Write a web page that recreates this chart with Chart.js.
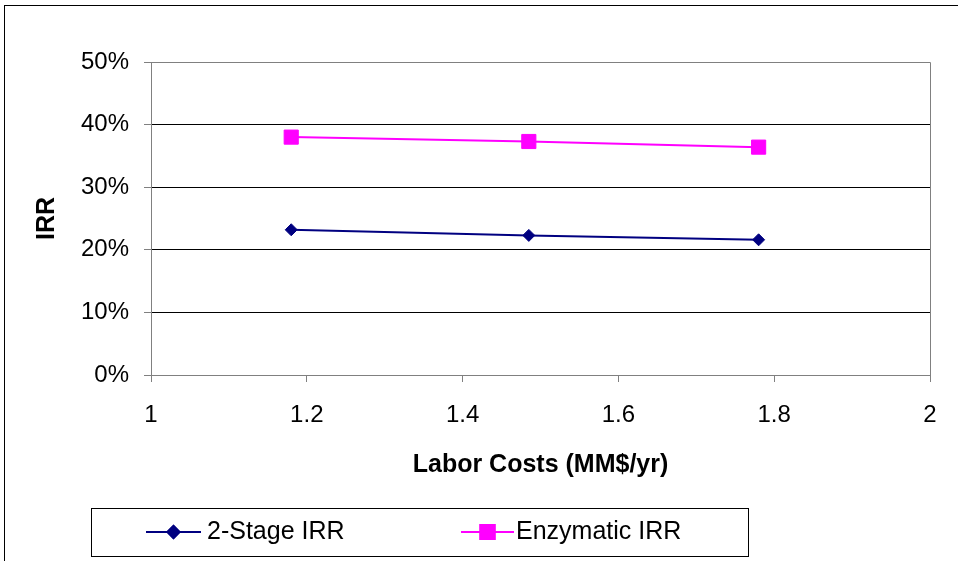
<!DOCTYPE html>
<html>
<head>
<meta charset="utf-8">
<title>IRR vs Labor Costs</title>
<script src="https://cdn.jsdelivr.net/npm/chart.js@4/dist/chart.umd.min.js"></script>
<style>
  body { margin: 0; background: #fff; }
  canvas { display: block; }
</style>
</head>
<body>
<canvas id="grafico" width="958" height="561"></canvas>
<script>
// labor cost scenarios (MM$/yr) and resulting IRR of both processes
var laborCosts = [1.18, 1.485, 1.78]
var twoStageIRR = [0.232, 0.223, 0.216]
var enzymaticIRR = [0.380, 0.373, 0.364]
var xTicks = [1, 1.2, 1.4, 1.6, 1.8, 2]
var yTicks = [0, 0.1, 0.2, 0.3, 0.4, 0.5]

var fonte = "'Liberation Sans', Arial, sans-serif"

function pontos(xs, ys) {
    return xs.map(function (x, i) { return { x: x, y: ys[i] } })
}

// outer frame, plot area border and the boxed legend under the chart
var moldura = {
    id: 'moldura',
    afterDraw: function (chart) {
        var ctx = chart.ctx
        var area = chart.chartArea
        ctx.save()
        ctx.lineWidth = 1
        ctx.strokeStyle = '#000'
        ctx.strokeRect(4.5, 5.5, 1000, 700)

        ctx.strokeStyle = '#808080'
        ctx.beginPath()
        ctx.moveTo(area.left, area.top + 0.5)
        ctx.lineTo(area.right + 0.5, area.top + 0.5)
        ctx.lineTo(area.right + 0.5, area.bottom)
        ctx.stroke()

        // legend
        ctx.strokeStyle = '#000'
        ctx.strokeRect(91.5, 508.5, 657, 48)
        var entradas = [
            { ds: chart.data.datasets[0], x0: 146, x1: 201, tx: 207 },
            { ds: chart.data.datasets[1], x0: 461, x1: 514, tx: 516 }
        ]
        var yc = 532
        entradas.forEach(function (e) {
            ctx.strokeStyle = e.ds.borderColor
            ctx.lineWidth = e.ds.borderWidth
            ctx.beginPath()
            ctx.moveTo(e.x0, yc)
            ctx.lineTo(e.x1, yc)
            ctx.stroke()
            Chart.helpers.drawPoint(ctx, {
                pointStyle: e.ds.pointStyle,
                radius: e.ds.pointRadius,
                borderWidth: 1,
                rotation: 0
            }, (e.x0 + e.x1) / 2, yc)
            ctx.fillStyle = e.ds.backgroundColor
            ctx.strokeStyle = e.ds.borderColor
            ctx.fill()
            ctx.stroke()
            ctx.fillStyle = '#000'
            ctx.font = '25px ' + fonte
            ctx.textBaseline = 'middle'
            ctx.textAlign = 'left'
            ctx.fillText(e.ds.label, e.tx, yc)
        })
        ctx.restore()
    }
}

var config = {
    type: 'scatter',
    data: {
        datasets: [{
            label: '2-Stage IRR',
            data: pontos(laborCosts, twoStageIRR),
            showLine: true,
            borderColor: '#000080',
            backgroundColor: '#000080',
            borderWidth: 2,
            pointStyle: 'rectRot',
            pointRadius: 6,
            pointBorderWidth: 1
        }, {
            label: 'Enzymatic IRR',
            data: pontos(laborCosts, enzymaticIRR),
            showLine: true,
            borderColor: '#FF00FF',
            backgroundColor: '#FF00FF',
            borderWidth: 2,
            pointStyle: 'rect',
            pointRadius: 10,
            pointBorderWidth: 1
        }]
    },
    options: {
        responsive: false,
        animation: false,
        layout: { padding: { left: 0, top: 62, right: 28, bottom: 81 } },
        plugins: {
            legend: { display: false },
            tooltip: { enabled: false }
        },
        scales: {
            x: {
                type: 'linear',
                min: 1,
                max: 2,
                afterBuildTicks: function (scale) {
                    scale.ticks = xTicks.map(function (v) { return { value: v } })
                },
                afterFit: function (scale) { scale.height = 105 },
                border: { color: '#808080', width: 1 },
                grid: { drawOnChartArea: false, drawTicks: true, tickLength: 7, tickColor: '#808080' },
                ticks: {
                    color: '#000',
                    font: { family: fonte, size: 24 },
                    padding: 19,
                    maxRotation: 0,
                    callback: function (v) { return String(Math.round(v * 10) / 10) }
                },
                title: {
                    display: true,
                    text: 'Labor Costs (MM$/yr)',
                    color: '#000',
                    font: { family: fonte, size: 25, weight: 'bold' },
                    padding: { top: 0, bottom: 0 }
                }
            },
            y: {
                min: 0,
                max: 0.5,
                afterBuildTicks: function (scale) {
                    scale.ticks = yTicks.map(function (v) { return { value: v } })
                },
                afterFit: function (scale) { scale.width = 151 },
                border: { color: '#808080', width: 1 },
                grid: {
                    color: function (c) { return c.tick && c.tick.value >= 0.5 ? '#808080' : '#000' },
                    lineWidth: 1,
                    drawTicks: true,
                    tickLength: 7,
                    tickColor: '#808080'
                },
                ticks: {
                    color: '#000',
                    font: { family: fonte, size: 24 },
                    padding: 15,
                    callback: function (v) { return Math.round(v * 100) + '%' }
                },
                title: {
                    display: true,
                    text: 'IRR',
                    color: '#000',
                    font: { family: fonte, size: 25, weight: 'bold' },
                    padding: { top: 32, bottom: 0 }
                }
            }
        }
    },
    plugins: [moldura]
}

var grafico = new Chart(document.getElementById('grafico'), config)
</script>
</body>
</html>
